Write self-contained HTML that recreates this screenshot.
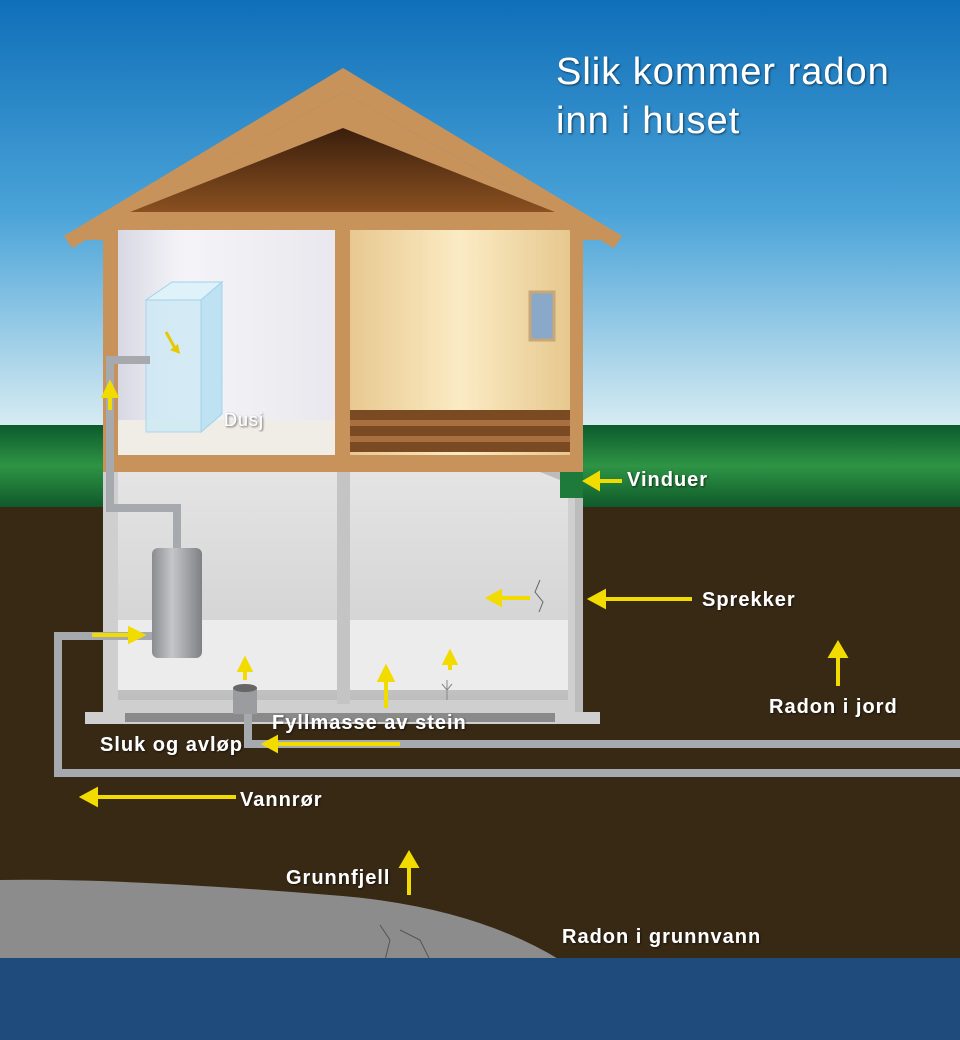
<!DOCTYPE html>
<html><head><style>body{margin:0}svg{display:block}text{font-family:"Liberation Sans",sans-serif;fill:#fff;letter-spacing:1px}</style></head><body>
<svg width="960" height="1040" viewBox="0 0 960 1040" xmlns="http://www.w3.org/2000/svg">
<defs>
<linearGradient id="sky" x1="0" y1="0" x2="0" y2="1"><stop offset="0" stop-color="#0f6fb8"/><stop offset="0.5" stop-color="#4aa3d8"/><stop offset="1" stop-color="#d6ebf2"/></linearGradient>
<linearGradient id="grass" x1="0" y1="0" x2="0" y2="1"><stop offset="0" stop-color="#0c5a2c"/><stop offset="0.5" stop-color="#2e9445"/><stop offset="1" stop-color="#0f5a2a"/></linearGradient>
<linearGradient id="room1" x1="0" y1="0" x2="1" y2="0"><stop offset="0" stop-color="#d8d8e4"/><stop offset="0.3" stop-color="#f4f4f8"/><stop offset="1" stop-color="#e8e8ee"/></linearGradient>
<linearGradient id="room2" x1="0" y1="0" x2="1" y2="0"><stop offset="0" stop-color="#e8c890"/><stop offset="0.5" stop-color="#fbebc4"/><stop offset="1" stop-color="#e6c88e"/></linearGradient>
<linearGradient id="bw" x1="0" y1="0" x2="0" y2="1"><stop offset="0" stop-color="#e4e4e4"/><stop offset="0.8" stop-color="#d2d2d2"/><stop offset="1" stop-color="#bdbdbd"/></linearGradient>
<linearGradient id="attic" x1="0" y1="0" x2="0" y2="1"><stop offset="0" stop-color="#3a1e0c"/><stop offset="1" stop-color="#8a5020"/></linearGradient>
<linearGradient id="tank" x1="0" y1="0" x2="1" y2="0"><stop offset="0" stop-color="#8a8c90"/><stop offset="0.4" stop-color="#c4c6ca"/><stop offset="1" stop-color="#7e8084"/></linearGradient>
<filter id="sh"><feDropShadow dx="1" dy="1" stdDeviation="1" flood-color="#000" flood-opacity="0.6"/></filter>
</defs>
<rect width="960" height="1040" fill="#382915"/>
<rect width="960" height="425" fill="url(#sky)"/>
<rect y="425" width="960" height="82" fill="url(#grass)"/>
<path d="M0 880 Q120 878 330 895 Q470 905 560 960 L0 960 Z" fill="#8c8c8c"/>
<path d="M380 925 l10 15 l-5 20 M400 930 l20 10 l10 20" stroke="#555" fill="none"/>
<rect y="958" width="960" height="82" fill="#1f4b7c"/>
<polygon points="343,68 622,236 614,248 343,92 72,248 64,236" fill="#c8935a"/>
<polygon points="343,92 600,240 86,240" fill="#c8935a"/>
<polygon points="343,128 555,212 130,212" fill="url(#attic)"/>
<rect x="103" y="212" width="480" height="260" fill="#c8935a"/>
<rect x="118" y="230" width="217" height="225" fill="url(#room1)"/>
<rect x="118" y="420" width="217" height="35" fill="#f0ece6"/>
<rect x="350" y="230" width="220" height="225" fill="url(#room2)"/>
<rect x="350" y="410" width="220" height="42" fill="#7a4a22"/>
<rect x="350" y="420" width="220" height="6" fill="#a87040"/><rect x="350" y="436" width="220" height="6" fill="#a87040"/>
<rect x="530" y="292" width="24" height="48" fill="#8aa8c8" stroke="#c8a878" stroke-width="3"/>
<rect x="146" y="300" width="55" height="132" fill="#cfeaf6" stroke="#9fd3ec" opacity="0.85"/>
<polygon points="146,300 172,282 222,282 201,300" fill="#dff2fa" stroke="#9fd3ec"/>
<polygon points="201,300 222,282 222,414 201,432" fill="#bfe2f2" stroke="#9fd3ec"/>
<line x1="166" y1="332" x2="176" y2="350" stroke="#e8c800" stroke-width="3"/><polygon points="170,350 180,354 178,344" fill="#e8c800"/>
<text x="224" y="426" font-size="18" filter="url(#sh)">Dusj</text>
<rect x="103" y="472" width="480" height="242" fill="#cfcfcf"/>
<rect x="118" y="472" width="450" height="228" fill="url(#bw)"/>
<polygon points="118,620 568,620 568,690 118,690" fill="#ececec"/>
<rect x="337" y="472" width="13" height="232" fill="#c4c4c4"/>
<polygon points="540,472 560,480 575,492 575,712 583,712 583,472" fill="#bcbcbc"/>
<rect x="560" y="472" width="23" height="26" fill="#1e7a3a"/>
<rect x="85" y="712" width="515" height="12" fill="#cfcfcf"/>
<rect x="125" y="713" width="430" height="9" fill="#8a8a8a"/>
<path d="M540 580 l-5 12 l8 10 l-4 10" stroke="#666" fill="none"/>
<g fill="none" stroke="#a6aaae" stroke-width="8">
<path d="M960 773 H58 V636 H152"/>
<path d="M960 744 H248 V700"/>
<path d="M177 548 V508 H110 V360 H150"/>
</g>
<rect x="152" y="548" width="50" height="110" rx="6" fill="url(#tank)"/>
<rect x="233" y="688" width="24" height="26" fill="#9a9ca0"/><ellipse cx="245" cy="688" rx="12" ry="4" fill="#666"/>
<path d="M447 700 V680 M447 690 l-5 -6 M447 690 l5 -6" stroke="#888" fill="none"/>
<g stroke="#f2dc00" stroke-width="4" fill="#f2dc00">
<line x1="598" y1="481" x2="622" y2="481"/><polygon points="586,481 598,474 598,488"/>
<line x1="604" y1="599" x2="692" y2="599"/><polygon points="591,599 604,592 604,606"/>
<line x1="500" y1="598" x2="530" y2="598"/><polygon points="489,598 500,592 500,604"/>
<line x1="838" y1="656" x2="838" y2="686"/><polygon points="838,644 831,656 845,656"/>
<line x1="409" y1="866" x2="409" y2="895"/><polygon points="409,854 402,866 416,866"/>
<line x1="96" y1="797" x2="236" y2="797"/><polygon points="83,797 96,790 96,804"/>
<line x1="276" y1="744" x2="400" y2="744"/><polygon points="265,744 276,738 276,750"/>
<line x1="92" y1="635" x2="130" y2="635"/><polygon points="142,635 130,629 130,641"/>
<line x1="386" y1="680" x2="386" y2="708"/><polygon points="386,668 380,680 392,680"/>
<line x1="245" y1="672" x2="245" y2="680"/><polygon points="245,660 240,670 250,670"/>
<line x1="450" y1="664" x2="450" y2="670"/><polygon points="450,653 445,663 455,663"/>
<line x1="110" y1="395" x2="110" y2="410"/><polygon points="110,384 104,396 116,396"/>
</g>
<g filter="url(#sh)" font-weight="bold">
<text x="556" y="84" font-size="38" font-weight="normal" letter-spacing="3">Slik kommer radon</text>
<text x="556" y="133" font-size="38" font-weight="normal" letter-spacing="3">inn i huset</text>
<text x="627" y="486" font-size="20">Vinduer</text>
<text x="702" y="606" font-size="20">Sprekker</text>
<text x="769" y="713" font-size="20">Radon i jord</text>
<text x="272" y="729" font-size="20">Fyllmasse av stein</text>
<text x="100" y="751" font-size="20">Sluk og avløp</text>
<text x="240" y="806" font-size="20">Vannrør</text>
<text x="286" y="884" font-size="20">Grunnfjell</text>
<text x="562" y="943" font-size="20">Radon i grunnvann</text>
</g>
</svg>
</body></html>
